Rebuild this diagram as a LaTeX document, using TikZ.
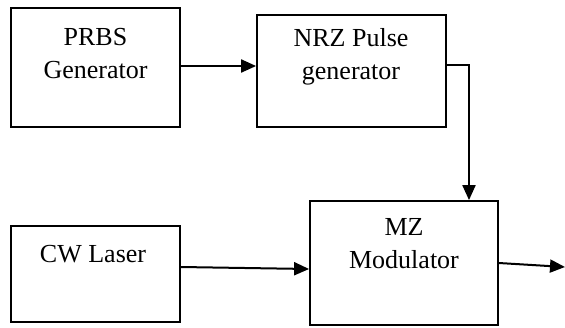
\documentclass[tikz,border=0pt]{standalone}
\usepackage{fontspec}
\setmainfont{Liberation Serif}
\usetikzlibrary{arrows.meta}
\begin{document}
\begin{tikzpicture}[x=1pt,y=-1pt,
  blk/.style={draw, line width=1.8pt, rectangle, inner sep=0pt},
  lbl/.style={align=center, inner sep=0pt, font=\fontsize{26}{33}\selectfont},
  arr/.style={line width=2pt, -{Triangle[length=15pt,width=13pt]}}]
\useasboundingbox (0,0) rectangle (565,327);
% blocks
\node[blk, minimum width=169pt, minimum height=119pt] (prbs) at (95.5,67.5) {};
\node[blk, minimum width=189pt, minimum height=112pt] (nrz) at (351.5,71) {};
\node[blk, minimum width=188pt, minimum height=124pt] (mz) at (404,263) {};
\node[blk, minimum width=169pt, minimum height=96pt] (cw) at (95.5,274) {};
% labels
\node[lbl] (prbsT) at (95.5,53.5) {PRBS\\Generator};
\node[lbl] (nrzT) at (351,57) {NRZ Pulse\\generator};
\node[lbl] (mzT) at (404,244) {MZ\\Modulator};
\node[lbl] (cwT) at (93,254) {CW Laser};
\coordinate (out) at (565,267);
% connectors
\draw[arr] ([yshift=1.5pt]prbs.east) -- ([yshift=1.5pt]prbs.east -| nrz.west);
\draw[arr] ([yshift=6pt]nrz.east) -| ([xshift=65pt]mz.north);
\draw[arr] ([yshift=7pt]cw.east) -- ([yshift=-6pt]mz.west);
\draw[arr] (mz.east) -- (out);
\end{tikzpicture}
\end{document}
